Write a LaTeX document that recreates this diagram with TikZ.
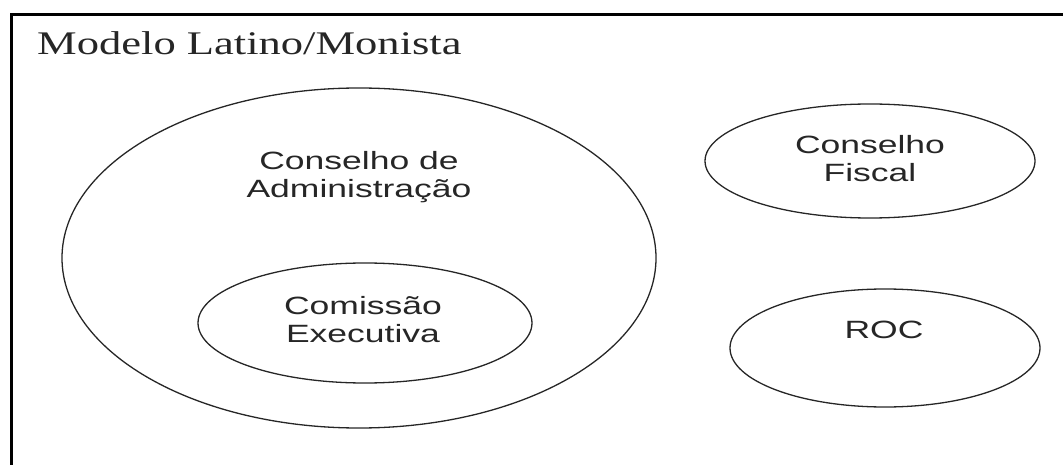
\documentclass[tikz,border=0pt]{standalone}
\usepackage{fontspec}
\usetikzlibrary{shapes.geometric}
\newfontfamily\titlefont[FakeStretch=1.35]{Liberation Serif}
\newfontfamily\orgfont[FakeStretch=1.42]{Liberation Sans}
\begin{document}
\begin{tikzpicture}[x=1pt,y=-1pt,
  organ/.style={draw=black!85, line width=1.3pt, ellipse, inner sep=0pt},
  orgtext/.style={anchor=base, align=center, text=black!85, inner sep=0pt,
    font=\orgfont\fontsize{25}{28}\selectfont},
  frameline/.style={line width=3pt, draw=black}]
\useasboundingbox (0,0) rectangle (1063,465);
\clip (0,0) rectangle (1063,465);
% frame (open to the right and bottom)
\draw[frameline] (11,480) -- (11,15) -- (1080,15);
\node[anchor=base west, inner sep=0pt, text=black!85,
  font=\titlefont\fontsize{33}{36}\selectfont] (title) at (37,55) {Modelo Latino/Monista};
% Conselho de Administracao
\node[organ, minimum width=594pt, minimum height=340pt] (cda) at (359,258) {};
\node[orgtext] (cdatext) at (359,198) {Conselho de\\Administração};
% Comissao Executiva
\node[organ, minimum width=334pt, minimum height=120pt] (ce) at (365,323) {};
\node[orgtext] (cetext) at (363,342) {Comissão\\Executiva};
% Conselho Fiscal
\node[organ, minimum width=330pt, minimum height=114pt] (cf) at (870,161) {};
\node[orgtext] (cftext) at (870,182) {Conselho\\Fiscal};
% ROC
\node[organ, minimum width=310pt, minimum height=118pt] (roc) at (885,348) {};
\node[orgtext] (roctext) at (884,338) {ROC};
\end{tikzpicture}
\end{document}
